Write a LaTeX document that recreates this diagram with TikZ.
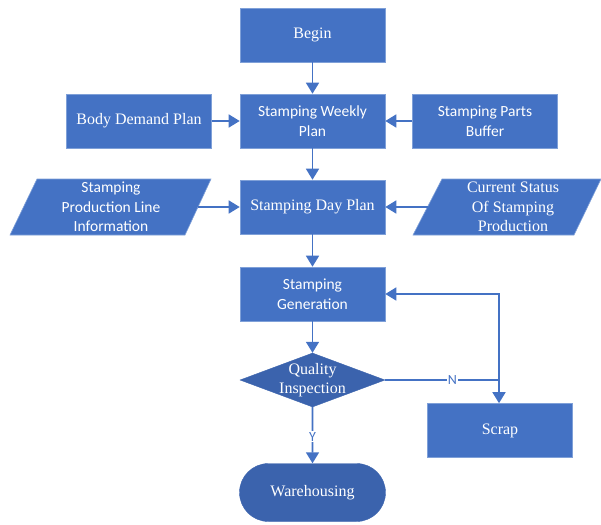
\documentclass[tikz,border=0pt]{standalone}
\usepackage{fontspec}
\setmainfont{Liberation Serif}
\newfontfamily\calib{Carlito}
\usetikzlibrary{shapes.geometric,shapes.misc,arrows.meta}
\definecolor{wblue}{HTML}{4472C4}
\definecolor{dblue}{HTML}{3B63AD}
\definecolor{edge}{HTML}{7FA0D8}
\tikzset{
  x=1pt,y=-1pt,
  box/.style={draw=edge,line width=0.6pt,fill=wblue,minimum width=145pt,minimum height=54pt,inner sep=0pt,text=white,align=center},
  serif/.style={font=\rmfamily\fontsize{16}{19.5}\selectfont},
  sans/.style={font=\calib\fontsize{15.5}{19.5}\selectfont},
  conn/.style={draw=wblue,line width=1.6pt,-{Triangle[length=11pt,width=13pt]}},
  plain/.style={draw=wblue,line width=1.6pt},
  lbl/.style={text=wblue,font=\calib\fontsize{14}{16}\selectfont,fill=white,inner sep=1pt},
  para/.style={draw=edge,line width=0.6pt,fill=wblue}
}
\begin{document}
\begin{tikzpicture}
\useasboundingbox (0,0) rectangle (601,524);
\node[box,serif] (begin) at (312.5,35) {Begin};
\node[box,sans] (weekly) at (312.5,121) {Stamping Weekly\\Plan};
\node[box,serif] (body) at (139,121) {Body Demand Plan};
\node[box,sans] (buffer) at (485,121) {Stamping Parts\\Buffer};
\node[box,serif] (day) at (312.5,207) {Stamping Day Plan};
\draw[para] (37,179) -- (211,179) -- (185,235) -- (10,235) -- cycle;
\node[sans,text=white,align=center] (line) at (111,207) {Stamping\\Production Line\\Information};
\coordinate (lineR) at (198,207);
\draw[para] (442,179) -- (601,179) -- (574,235) -- (413,235) -- cycle;
\node[serif,text=white,align=center] (status) at (513,207) {Current Status\\Of Stamping\\Production};
\coordinate (statusL) at (428,207);
\node[box,sans] (gen) at (312.5,294) {Stamping\\Generation};
\node[draw=dblue,fill=dblue,diamond,minimum width=145pt,minimum height=54pt,inner sep=0pt] (qi) at (312.5,380) {};
\node[text=white,align=center,serif] (qit) at (qi.center) {Quality\\Inspection};
\node[box,serif] (scrap) at (500,430.5) {Scrap};
\node[draw=dblue,fill=dblue,rounded rectangle,minimum width=146pt,minimum height=58pt,inner sep=0pt,text=white,serif] (wh) at (312.5,492.5) {Warehousing};
\coordinate (jn) at (499,380);
\draw[conn] (begin) -- (weekly);
\draw[conn] (body) -- (weekly);
\draw[conn] (buffer) -- (weekly);
\draw[conn] (weekly) -- (day);
\draw[conn] (lineR) -- (day);
\draw[conn] (statusL) -- (day);
\draw[conn] (day) -- (gen);
\draw[conn] (gen) -- (qi);
\draw[plain] (qi.east) -- node[lbl,pos=0.59] {N} (jn);
\draw[conn] (jn) -- (jn |- scrap.north);
\draw[conn] (jn) -- (jn |- gen.east) -- (gen.east);
\draw[conn] (qi) -- node[lbl,pos=0.53] {Y} (wh);
\end{tikzpicture}
\end{document}
